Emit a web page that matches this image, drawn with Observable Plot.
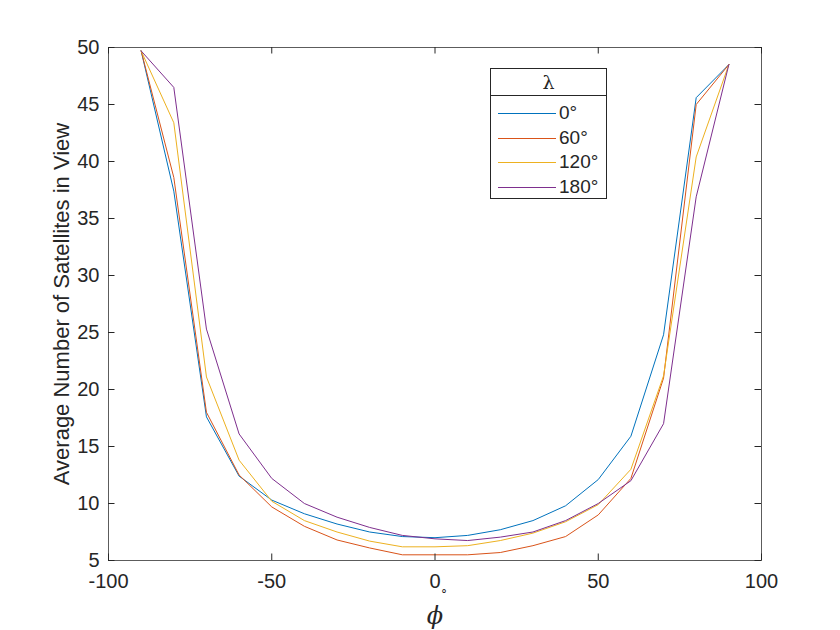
<!DOCTYPE html>
<html>
<head>
<meta charset="utf-8">
<script src="https://cdn.jsdelivr.net/npm/d3@7"></script>
<script src="https://cdn.jsdelivr.net/npm/@observablehq/plot@0.6"></script>
<style>
  body { margin: 0; background: #fff; }
  #wrap { position: relative; width: 840px; height: 630px; font-family: "Liberation Sans", Arial, sans-serif; color: #262626; }
  #legend { position: absolute; left: 490px; top: 68px; width: 117px; height: 131px; border: 1px solid #262626; background: #fff; box-sizing: border-box; }
  #legend .title { height: 26px; border-bottom: 1px solid #262626; text-align: center; font-family: "DejaVu Serif", "Liberation Serif", serif; font-size: 19px; line-height: 26px; }
  #legend .row { position: absolute; left: 0; height: 24px; width: 100%; }
  #legend .row .ln { position: absolute; left: 7px; width: 58px; top: 12px; height: 0; border-top: 1px solid; }
  #legend .row .tx { position: absolute; left: 68px; top: 0; font-size: 19px; line-height: 24px; }
</style>
</head>
<body>
<div id="wrap"></div>
<script>
// latitude phi (degrees)
const phi = [-90, -80, -70, -60, -50, -40, -30, -20, -10, 0, 10, 20, 30, 40, 50, 60, 70, 80, 90];
// series: average satellites in view for longitude lambda
const lam0   = [49.7, 37.4, 17.6, 12.4, 10.3, 9.1, 8.2, 7.5, 7.1, 7.0, 7.2, 7.7, 8.5, 9.8, 12.1, 15.9, 24.8, 45.6, 48.5];
const lam60  = [49.7, 38.6, 18.0, 12.5, 9.7, 8.0, 6.8, 6.1, 5.5, 5.5, 5.5, 5.7, 6.3, 7.1, 9.0, 12.2, 21.0, 45.0, 48.5];
const lam120 = [49.7, 43.4, 21.1, 13.8, 10.2, 8.5, 7.5, 6.7, 6.2, 6.2, 6.3, 6.75, 7.4, 8.4, 9.9, 13.0, 21.2, 40.4, 48.5];
const lam180 = [49.7, 46.5, 25.3, 16.1, 12.2, 10.0, 8.8, 7.9, 7.2, 6.9, 6.75, 7.05, 7.5, 8.5, 10.0, 12.0, 17.0, 36.9, 48.5];
const seriesNames = ["0°", "60°", "120°", "180°"];
const seriesColors = ["#0072BD", "#D95319", "#EDB120", "#7E2F8E"];
const xTicks = [-100, -50, 0, 50, 100];
const yTicks = [5, 10, 15, 20, 25, 30, 35, 40, 45, 50];
const yLabel = "Average Number of Satellites in View";
const xLabel = "ϕ";
const xLabelSup = "°";
const legendTitle = "λ";

const allSeries = [lam0, lam60, lam120, lam180];
const rows = [];
allSeries.forEach((vals, s) => vals.forEach((v, i) => rows.push({phi: phi[i], n: v, s: seriesNames[s]})));

const W = 840, H = 630, mL = 108, mR = 79, mT = 47, mB = 70;
const innerW = W - mL - mR, innerH = H - mT - mB;
const tickLen = 6.5;
const axisColor = "#262626";
const serif = "'DejaVu Serif', 'Liberation Serif', serif";

const chart = Plot.plot({
  width: W, height: H,
  marginLeft: mL, marginRight: mR, marginTop: mT, marginBottom: mB,
  style: {fontFamily: "'Liberation Sans', Arial, sans-serif", color: axisColor, background: "#fff"},
  x: {domain: [-100, 100]},
  y: {domain: [5, 50]},
  color: {domain: seriesNames, range: seriesColors},
  marks: [
    Plot.line(rows, {x: "phi", y: "n", z: "s", stroke: "s", strokeWidth: 1}),
    Plot.frame({stroke: axisColor, strokeWidth: 1, strokeOpacity: 0.75}),
    // inward ticks, all four sides
    Plot.tickX(xTicks, {x: d => d, insetTop: innerH - tickLen, stroke: axisColor}),
    Plot.tickX(xTicks, {x: d => d, insetBottom: innerH - tickLen, stroke: axisColor}),
    Plot.tickY(yTicks, {y: d => d, insetRight: innerW - tickLen, stroke: axisColor}),
    Plot.tickY(yTicks, {y: d => d, insetLeft: innerW - tickLen, stroke: axisColor}),
    Plot.axisX(xTicks, {tickSize: 0, tickPadding: 13, fontSize: 20, label: null, fill: axisColor, tickFormat: d => String(d)}),
    Plot.axisY(yTicks, {tickSize: 0, tickPadding: 9, fontSize: 20, label: null, fill: axisColor, tickFormat: d => String(d)}),
    Plot.text([yLabel], {frameAnchor: "left", textAnchor: "middle", lineAnchor: "middle", rotate: -90, dx: -47, fontSize: 22, fill: axisColor}),
    Plot.text([xLabel], {frameAnchor: "bottom", textAnchor: "middle", lineAnchor: "middle", dy: 56, fontSize: 24, fontStyle: "italic", fontFamily: serif, fill: axisColor}),
    Plot.text([xLabelSup], {frameAnchor: "bottom", textAnchor: "middle", lineAnchor: "middle", dy: 35, dx: 9, fontSize: 12, fontFamily: serif, fill: axisColor})
  ]
});

const wrap = document.getElementById("wrap");
wrap.appendChild(chart);

const leg = document.createElement("div");
leg.id = "legend";
const t = document.createElement("div");
t.className = "title";
t.textContent = legendTitle;
leg.appendChild(t);
seriesNames.forEach((name, i) => {
  const r = document.createElement("div");
  r.className = "row";
  r.style.top = (32 + i * 24.5) + "px";
  const ln = document.createElement("div");
  ln.className = "ln";
  ln.style.borderTopColor = seriesColors[i];
  const tx = document.createElement("div");
  tx.className = "tx";
  tx.textContent = name;
  r.appendChild(ln); r.appendChild(tx);
  leg.appendChild(r);
});
wrap.appendChild(leg);
</script>
</body>
</html>
